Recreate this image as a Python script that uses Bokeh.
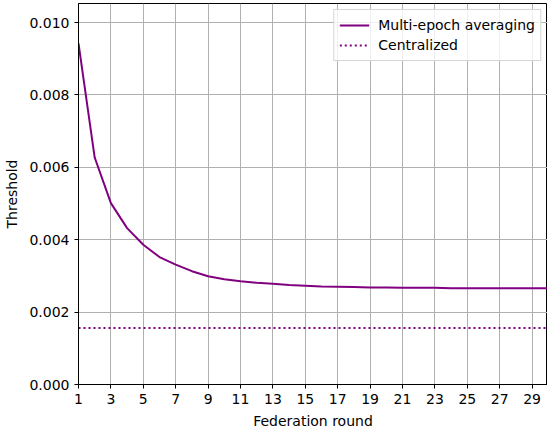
from bokeh.plotting import figure
from bokeh.models import Range1d, FixedTicker, PrintfTickFormatter, Legend, LegendItem
from bokeh.embed import file_html
from bokeh.resources import INLINE

rounds = list(range(1, 31))
multi_epoch = [0.00942, 0.00627, 0.00501, 0.00432, 0.00386, 0.00352, 0.00331, 0.00313,
               0.00299, 0.00291, 0.00285, 0.00281, 0.00278, 0.00275, 0.00273, 0.00271,
               0.00270, 0.00269, 0.00268, 0.00268, 0.00267, 0.00267, 0.00267, 0.00266,
               0.00266, 0.00266, 0.00266, 0.00266, 0.00266, 0.00266]
centralized = [0.00156] * len(rounds)
x_ticks = list(range(1, 31, 2))
y_ticks = [0.0, 0.002, 0.004, 0.006, 0.008, 0.010]

FONT = "DejaVu Sans"
COLOR = "#800080"

p = figure(width=547, height=432, output_backend="svg", toolbar_location=None,
           x_range=Range1d(1, 29.95), y_range=Range1d(0, 0.010525),
           min_border_left=78, min_border_right=0, min_border_top=3, min_border_bottom=48)

r1 = p.line(rounds, multi_epoch, line_color=COLOR, line_width=2)
r2 = p.line(rounds, centralized, line_color=COLOR, line_width=2, line_dash="2 3")

p.xaxis.ticker = FixedTicker(ticks=x_ticks)
p.yaxis.ticker = FixedTicker(ticks=y_ticks)
p.yaxis.formatter = PrintfTickFormatter(format="%.3f")
p.xaxis.axis_label = "Federation round"
p.yaxis.axis_label = "Threshold"
for ax in (p.xaxis, p.yaxis):
    ax.axis_label_text_font = FONT
    ax.axis_label_text_font_size = "14px"
    ax.axis_label_text_font_style = "normal"
    ax.axis_label_text_color = "black"
    ax.major_label_text_font = FONT
    ax.major_label_text_font_size = "14px"
    ax.major_label_text_color = "black"
    ax.axis_line_color = "black"
    ax.major_tick_line_color = "black"
    ax.minor_tick_line_color = None
    ax.major_tick_out = 4
    ax.major_tick_in = 0
    ax.axis_label_standoff = 6

p.xgrid.ticker = FixedTicker(ticks=x_ticks)
p.ygrid.ticker = FixedTicker(ticks=y_ticks)
p.grid.grid_line_color = "#b0b0b0"
p.grid.grid_line_width = 1
p.outline_line_color = "black"
p.outline_line_width = 1

legend = Legend(items=[LegendItem(label="Multi-epoch averaging", renderers=[r1]),
                       LegendItem(label="Centralized", renderers=[r2])],
                location="top_right")
legend.label_text_font = FONT
legend.label_text_font_size = "14px"
legend.label_text_color = "black"
legend.label_standoff = 9
legend.border_line_color = "#cccccc"
legend.border_line_alpha = 0.8
legend.background_fill_alpha = 0.8
legend.glyph_width = 30
legend.spacing = 0
legend.padding = 5
legend.margin = 6
p.add_layout(legend)

open("out.html", "w").write(file_html(p, INLINE))
